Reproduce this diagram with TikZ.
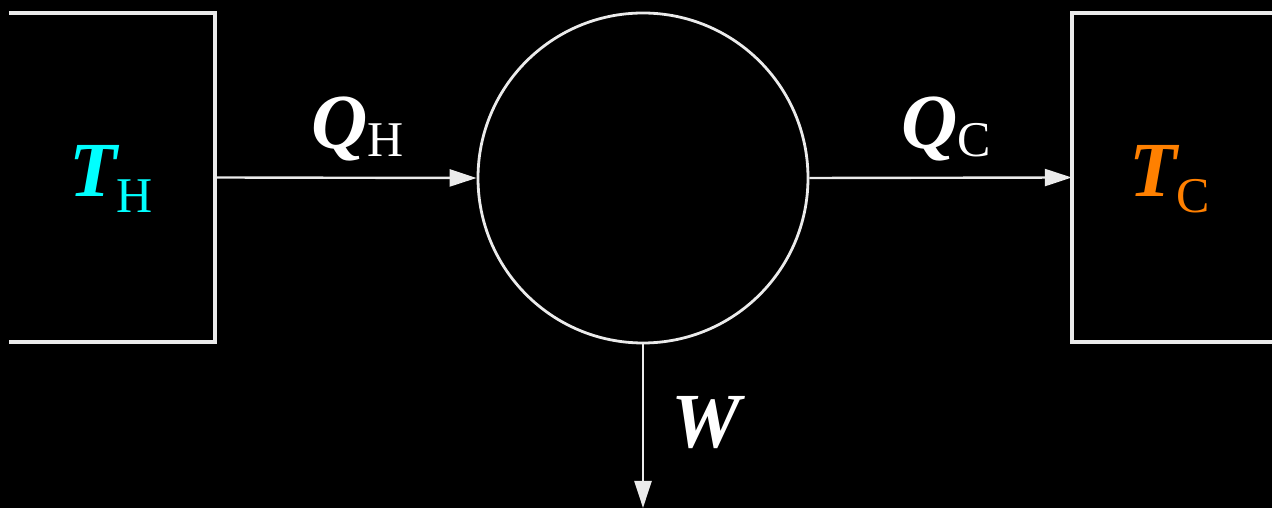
\documentclass[tikz,border=0pt]{standalone}
\usepackage{fontspec}
\setmainfont{Liberation Serif}
\usetikzlibrary{arrows.meta}
\definecolor{hotc}{RGB}{0,255,255}
\definecolor{coldc}{RGB}{255,128,0}
\definecolor{linec}{RGB}{235,235,235}
\newcommand{\bigsym}[1]{{\fontsize{78}{78}\selectfont\bfseries\itshape #1}}
\newcommand{\subsym}[2]{\raisebox{#1}{\fontsize{50}{50}\selectfont #2}}
\begin{document}
\begin{tikzpicture}[x=1pt,y=1pt,
  reservoir/.style={rectangle, inner sep=0pt, minimum width=#1, minimum height=329pt},
  wall/.style={draw=linec, line width=4pt},
  flow/.style={draw=linec, line width=2.4pt, -{Triangle[length=27pt,width=17pt]}},
  lab/.style={text=white, inner sep=0pt, anchor=base west}]
\fill[black] (0,0) rectangle (1272,508);
\useasboundingbox (0,0) rectangle (1272,508);
\node[reservoir=206pt] (hot) at (112,330.5) {};
\node[reservoir=200pt] (cold) at (1172,330.5) {};
\node[circle, draw=linec, line width=2.8pt, minimum size=330pt, inner sep=0pt] (eng) at (643,330) {};
\coordinate (wout) at (643,0);
\draw[wall] (hot.north west) -- (hot.north east) -- (hot.south east) -- (hot.south west);
\draw[wall] (cold.north east) -- (cold.north west) -- (cold.south west) -- (cold.south east);
\draw[flow] (hot.east) -- (eng.west);
\draw[flow] (eng.east) -- (cold.west);
\draw[flow] (eng.south) -- (wout);
\node[lab, text=hotc] (th) at (69,311) {\bigsym{T}\subsym{-16pt}{H}};
\node[lab, text=coldc] (tc) at (1129,311) {\bigsym{T}\subsym{-16pt}{C}};
\node[lab] (qh) at (311,359) {\bigsym{Q}\subsym{-8pt}{H}};
\node[lab] (qc) at (901,359) {\bigsym{Q}\subsym{-8pt}{C}};
\node[lab] (w) at (671,60) {\bigsym{W}};
\end{tikzpicture}
\end{document}
